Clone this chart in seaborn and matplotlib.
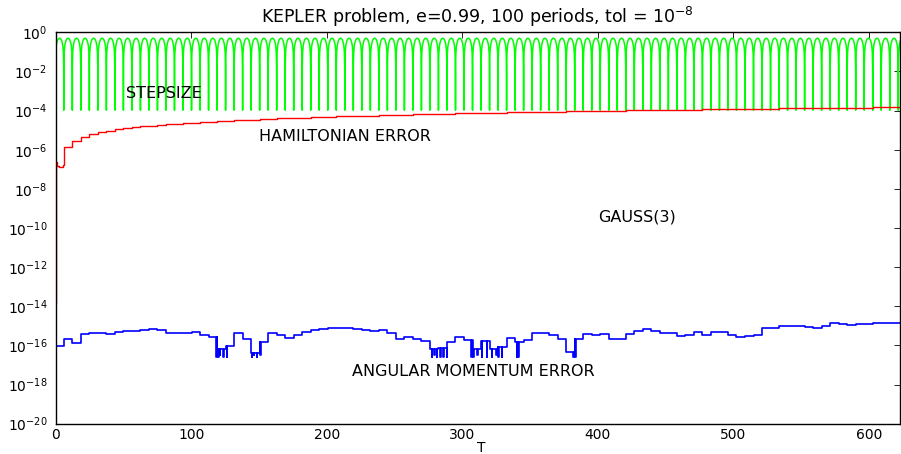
import numpy as np
import pandas as pd
import matplotlib
matplotlib.use("Agg")
import matplotlib.pyplot as plt
from matplotlib.ticker import NullLocator
import seaborn as sns

# ---------------- data ----------------
TITLE = "KEPLER problem, e=0.99, 100 periods, tol = $10^{-8}$"
X_LABEL = "T"
X_TICKS = [0, 100, 200, 300, 400, 500, 600]
Y_TICK_EXPONENTS = [0, -2, -4, -6, -8, -10, -12, -14, -16, -18, -20]
X_MAX = 623.0

PERIOD = 2 * np.pi          # time between perihelion passages
T0 = 0.31                   # t=0 lies this long after a perihelion passage
N_PERIODS = 100

# step size over one orbit: phase from perihelion -> log10(step size)
step_phase = [0.0, 0.001, 0.003, 0.01, 0.02, 0.05, 0.10, 0.15, 0.25, 0.35, 0.50,
              0.65, 0.75, 0.85, 0.90, 0.95, 0.98, 0.99, 0.997, 0.999, 1.0]
step_log10 = [-3.98, -2.89, -2.33, -1.74, -1.44, -1.03, -0.75, -0.60, -0.43, -0.34, -0.30,
              -0.34, -0.43, -0.60, -0.75, -1.03, -1.44, -1.74, -2.33, -2.89, -3.98]

# Hamiltonian error: first orbit (t, value), then level after each perihelion (x 1e-6)
ham_start_t = [0.0, 0.3, 1.2, 2.5, 4.4, 5.3]
ham_start_v = [1.5e-14, 2.5e-7, 1.5e-7, 1.35e-7, 1.35e-7, 1.7e-7]
ham_levels_e6 = [1.42, 2.9, 4.6, 6.3, 7.8, 9.4, 11.0, 12.5, 14.0, 15.5,
                 17.0, 18.5, 20.0, 21.5, 23.0, 24.5, 26.0, 27.5, 29.0, 30.5,
                 32.0, 33.5, 35.0, 36.5, 38.0, 39.5, 41.0, 42.5, 44.0, 45.5,
                 47.0, 48.5, 50.0, 51.5, 53.0, 54.5, 56.0, 57.5, 59.0, 60.5,
                 62.0, 63.5, 65.0, 66.5, 68.0, 69.5, 71.0, 72.5, 74.0, 75.5,
                 77.0, 78.5, 80.0, 81.5, 83.0, 84.5, 86.0, 87.5, 89.0, 90.5,
                 92.0, 93.5, 95.0, 96.5, 98.0, 99.5, 101.0, 102.5, 104.0, 105.5,
                 107.0, 108.5, 110.0, 111.5, 113.0, 114.5, 116.0, 117.5, 119.0, 120.5,
                 122.0, 123.5, 125.0, 126.5, 128.0, 129.5, 131.0, 132.5, 134.0, 135.5,
                 137.0, 138.5, 140.0, 141.5, 143.0, 144.5, 146.0, 147.5, 149.0]

# angular momentum error: log10 level in each orbit (orbit 0 .. 99)
am_levels_log10 = [-16.01, -15.69, -15.89, -15.43, -15.38, -15.38, -15.42, -15.30, -15.26, -15.25,
                   -15.21, -15.16, -15.21, -15.35, -15.38, -15.38, -15.30, -15.47, -15.59, -16.20,
                   -16.05, -15.38, -15.69, -16.40, -15.80, -15.38, -15.47, -15.64, -15.47, -15.30,
                   -15.21, -15.16, -15.13, -15.13, -15.13, -15.16, -15.21, -15.25, -15.21, -15.38,
                   -15.69, -15.55, -15.69, -15.76, -16.20, -16.15, -15.81, -15.55, -15.72, -16.20,
                   -15.78, -16.20, -16.10, -15.64, -15.81, -15.72, -15.38, -15.38, -15.47, -15.65,
                   -16.35, -15.69, -15.42, -15.47, -15.42, -15.69, -15.69, -15.42, -15.25, -15.16,
                   -15.25, -15.35, -15.35, -15.52, -15.45, -15.30, -15.47, -15.30, -15.33, -15.47,
                   -15.55, -15.50, -15.47, -15.09, -15.13, -14.99, -14.99, -15.01, -15.04, -15.13,
                   -14.99, -14.87, -14.91, -14.96, -14.91, -14.91, -14.87, -14.87, -14.87, -14.84]
am_start_log10 = -16.5
am_dip_t = [118.6, 120.0, 121.0, 123.7, 126.2, 144.6, 146.0, 148.3, 150.9,
            277.4, 279.5, 281.1, 283.5, 286.0, 288.5, 306.5, 308.0, 311.0, 314.3,
            318.0, 321.6, 325.0, 326.5, 329.0, 340.1, 341.3, 382.0, 383.5]
am_dip_log10 = [-16.58, -16.58, -16.5, -16.58, -16.58, -16.58, -16.5, -16.58, -16.5,
                -16.58, -16.5, -16.58, -16.58, -16.58, -16.58, -16.58, -16.58, -16.5, -16.58,
                -16.58, -16.58, -16.5, -16.58, -16.58, -16.58, -16.58, -16.58, -16.58]

LABELS = ["STEPSIZE", "HAMILTONIAN ERROR", "GAUSS(3)", "ANGULAR MOMENTUM ERROR"]
LABEL_T = [79.9, 213.5, 428.9, 307.9]
LABEL_V = [7.9e-4, 4.5e-6, 3.6e-10, 4.4e-18]

# ---------------- build series tables ----------------
# step size: orbit profile repeated for every orbit
g_t, g_v = [], []
for k in range(-1, N_PERIODS + 1):
    for ph, lv in zip(step_phase, step_log10):
        g_t.append(PERIOD * (k + ph) - T0)
        g_v.append(10.0 ** lv)
df_step = pd.DataFrame({"t": g_t, "v": g_v})

# Hamiltonian error staircase
peri_t = [PERIOD * k - T0 for k in range(1, len(ham_levels_e6) + 1)]
h_t = list(ham_start_t) + peri_t + [X_MAX + 5]
h_v = list(ham_start_v) + [v * 1e-6 for v in ham_levels_e6] + [ham_levels_e6[-1] * 1e-6]
df_ham = pd.DataFrame({"t": h_t, "v": h_v})

# angular momentum error staircase with dips
starts = np.array([0.0] + [PERIOD * k - T0 for k in range(1, len(am_levels_log10))])
def level_at(t):
    i = int(np.searchsorted(starts, t, side="right")) - 1
    return am_levels_log10[max(i, 0)]
ev = [(0.0, am_start_log10, 0), (0.5, am_levels_log10[0], 1)]
for k in range(1, len(am_levels_log10)):
    ev.append((starts[k], am_levels_log10[k], 1))
for td, dv in zip(am_dip_t, am_dip_log10):
    ev.append((td, dv, 2))
    ev.append((td + 0.45, level_at(td + 0.45), 3))
ev.append((X_MAX + 5, am_levels_log10[-1], 4))
ev.sort(key=lambda e: (e[0], e[2]))
df_am = pd.DataFrame({"t": [e[0] for e in ev], "v": [10.0 ** e[1] for e in ev]})

# ---------------- plot ----------------
sns.set_theme(style="white")
plt.rcParams["font.family"] = ["DejaVu Sans"]
plt.rcParams["mathtext.fontset"] = "dejavusans"

fig = plt.figure(figsize=(9.01, 4.54), dpi=100)
ax_l, ax_r, ax_t, ax_b = 55.7, 900.0, 32.3, 423.7
ax = fig.add_axes([ax_l / 901, 1 - ax_b / 454, (ax_r - ax_l) / 901, (ax_b - ax_t) / 454])
ax.set_yscale("log")

sns.lineplot(data=df_step, x="t", y="v", ax=ax, estimator=None, sort=False,
             color="#00ff00", lw=1.1)
sns.lineplot(data=df_ham, x="t", y="v", ax=ax, estimator=None, sort=False,
             color="#ff0000", lw=1.0, drawstyle="steps-post")
sns.lineplot(data=df_am, x="t", y="v", ax=ax, estimator=None, sort=False,
             color="#0000ff", lw=1.2, drawstyle="steps-post")

ax.set_xlim(0, X_MAX)
ax.set_ylim(1e-20, 1.0)
ax.set_xticks(X_TICKS)
ax.set_xticklabels([str(v) for v in X_TICKS])
ax.set_yticks([10.0 ** e for e in Y_TICK_EXPONENTS])
ax.set_yticklabels([f"$10^{{{e}}}$" for e in Y_TICK_EXPONENTS])
ax.yaxis.set_minor_locator(NullLocator())
ax.xaxis.set_minor_locator(NullLocator())
ax.tick_params(axis="both", which="major", direction="in", top=True, right=True,
               length=4, width=0.6, color="black", labelsize=10, labelcolor="black")
ax.tick_params(axis="x", pad=3)
ax.tick_params(axis="y", pad=6)
for s in ax.spines.values():
    s.set_color("black")
    s.set_linewidth(1.0)
    s.set_visible(True)

ax.set_xlabel(X_LABEL, fontsize=10, color="black")
ax.xaxis.set_label_coords((481 - ax_l) / (ax_r - ax_l), (ax_b - 440.5) / (ax_b - ax_t))
ax.set_ylabel("")
ax.set_title(TITLE, fontsize=12.5, pad=7, color="black")

for txt, tx, ty in zip(LABELS, LABEL_T, LABEL_V):
    ax.text(tx, ty, txt, ha="center", va="center", fontsize=11.5, color="black")

fig.savefig("out.png", dpi=100)
